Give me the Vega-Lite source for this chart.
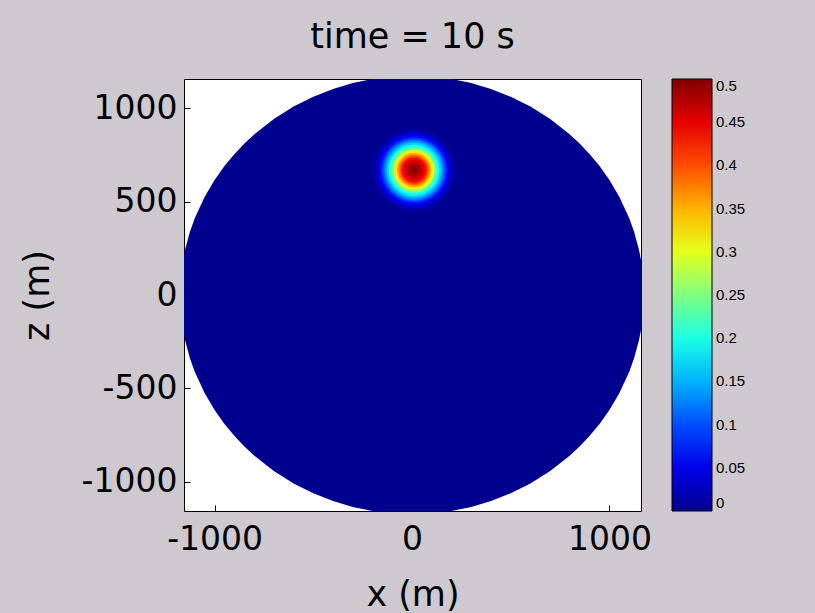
{
  "$schema": "https://vega.github.io/schema/vega-lite/v6.json",
  "width": 457,
  "height": 432,
  "autosize": "none",
  "padding": {"left": 184, "top": 79, "right": 174, "bottom": 102},
  "background": "#CDC9CF",
  "title": {"text": "time = 10 s", "fontSize": 35, "fontWeight": "normal", "font": "DejaVu Sans", "color": "black", "anchor": "middle", "frame": "group", "offset": -11, "baseline": "bottom"},
  "config": {
    "view": {"fill": "white", "stroke": "black", "strokeWidth": 1},
    "font": "DejaVu Sans"
  },
  "datasets": {
    "disk": [
      {"x": -1175, "z": 0, "z2": 0},
      {"x": -1170, "z": 108, "z2": -108},
      {"x": -1160, "z": 187, "z2": -187},
      {"x": -1150, "z": 241, "z2": -241},
      {"x": -1125, "z": 339, "z2": -339},
      {"x": -1100, "z": 413, "z2": -413},
      {"x": -1050, "z": 527, "z2": -527},
      {"x": -1000, "z": 617, "z2": -617},
      {"x": -950, "z": 691, "z2": -691},
      {"x": -900, "z": 755, "z2": -755},
      {"x": -850, "z": 811, "z2": -811},
      {"x": -800, "z": 861, "z2": -861},
      {"x": -700, "z": 944, "z2": -944},
      {"x": -600, "z": 1010, "z2": -1010},
      {"x": -500, "z": 1063, "z2": -1063},
      {"x": -400, "z": 1105, "z2": -1105},
      {"x": -300, "z": 1136, "z2": -1136},
      {"x": -200, "z": 1158, "z2": -1158},
      {"x": -100, "z": 1171, "z2": -1171},
      {"x": 0, "z": 1175, "z2": -1175},
      {"x": 100, "z": 1171, "z2": -1171},
      {"x": 200, "z": 1158, "z2": -1158},
      {"x": 300, "z": 1136, "z2": -1136},
      {"x": 400, "z": 1105, "z2": -1105},
      {"x": 500, "z": 1063, "z2": -1063},
      {"x": 600, "z": 1010, "z2": -1010},
      {"x": 700, "z": 944, "z2": -944},
      {"x": 800, "z": 861, "z2": -861},
      {"x": 850, "z": 811, "z2": -811},
      {"x": 900, "z": 755, "z2": -755},
      {"x": 950, "z": 691, "z2": -691},
      {"x": 1000, "z": 617, "z2": -617},
      {"x": 1050, "z": 527, "z2": -527},
      {"x": 1100, "z": 413, "z2": -413},
      {"x": 1125, "z": 339, "z2": -339},
      {"x": 1150, "z": 241, "z2": -241},
      {"x": 1160, "z": 187, "z2": -187},
      {"x": 1170, "z": 108, "z2": -108},
      {"x": 1175, "z": 0, "z2": 0}
    ],
    "rings": [
      {"x": 10, "z": 670, "r": 250, "v": 0.005},
      {"x": 10, "z": 670, "r": 240, "v": 0.012},
      {"x": 10, "z": 670, "r": 230, "v": 0.019},
      {"x": 10, "z": 670, "r": 220, "v": 0.035},
      {"x": 10, "z": 670, "r": 210, "v": 0.051},
      {"x": 10, "z": 670, "r": 200, "v": 0.07},
      {"x": 10, "z": 670, "r": 190, "v": 0.094},
      {"x": 10, "z": 670, "r": 180, "v": 0.118},
      {"x": 10, "z": 670, "r": 170, "v": 0.142},
      {"x": 10, "z": 670, "r": 160, "v": 0.166},
      {"x": 10, "z": 670, "r": 150, "v": 0.19},
      {"x": 10, "z": 670, "r": 140, "v": 0.22},
      {"x": 10, "z": 670, "r": 130, "v": 0.25},
      {"x": 10, "z": 670, "r": 120, "v": 0.289},
      {"x": 10, "z": 670, "r": 110, "v": 0.325},
      {"x": 10, "z": 670, "r": 100, "v": 0.356},
      {"x": 10, "z": 670, "r": 90, "v": 0.387},
      {"x": 10, "z": 670, "r": 80, "v": 0.417},
      {"x": 10, "z": 670, "r": 70, "v": 0.441},
      {"x": 10, "z": 670, "r": 60, "v": 0.453},
      {"x": 10, "z": 670, "r": 50, "v": 0.465},
      {"x": 10, "z": 670, "r": 40, "v": 0.476},
      {"x": 10, "z": 670, "r": 30, "v": 0.484},
      {"x": 10, "z": 670, "r": 20, "v": 0.492},
      {"x": 10, "z": 670, "r": 10, "v": 0.498}
    ]
  },
  "encoding": {
    "x": {
      "field": "x", "type": "quantitative",
      "scale": {"domain": [-1155, 1160], "nice": false, "zero": false},
      "axis": {"title": "x (m)", "values": [-1000, 0, 1000], "grid": false, "domain": false, "ticks": true, "tickSize": -6, "tickColor": "black", "labelFontSize": 33, "labelColor": "black", "labelFont": "DejaVu Sans", "labelPadding": 18, "labelExpr": "toString(datum.value)", "labelFlush": false, "labelOverlap": false, "titleFontSize": 35, "titleFontWeight": "normal", "titleColor": "black", "titleFont": "DejaVu Sans", "titlePadding": 21}
    },
    "y": {
      "field": "z", "type": "quantitative",
      "scale": {"domain": [-1158, 1158], "nice": false, "zero": false},
      "axis": {"title": "z (m)", "values": [-1000, -500, 0, 500, 1000], "grid": false, "domain": false, "ticks": true, "tickSize": -6, "tickColor": "black", "labelFontSize": 33, "labelColor": "black", "labelFont": "DejaVu Sans", "labelPadding": 13, "labelExpr": "toString(datum.value)", "labelFlush": false, "labelOverlap": false, "titleFontSize": 35, "titleFontWeight": "normal", "titleColor": "black", "titleFont": "DejaVu Sans", "titlePadding": 26}
    }
  },
  "layer": [
    {
      "data": {"name": "disk"},
      "mark": {"type": "area", "color": "#00008F", "clip": true, "interpolate": "linear"},
      "encoding": {"y2": {"field": "z2"}}
    },
    {
      "data": {"name": "rings"},
      "mark": {"type": "point", "filled": true, "opacity": 1, "shape": "circle", "strokeWidth": 0},
      "encoding": {
        "size": {"field": "r", "type": "quantitative", "scale": {"type": "pow", "exponent": 2, "domain": [0, 250], "range": [0, 7238]}, "legend": null},
        "order": {"field": "r", "sort": "descending"},
        "color": {
          "field": "v", "type": "quantitative",
          "scale": {"domain": [0, 0.0625, 0.1875, 0.3125, 0.4375, 0.5], "range": ["#00008F", "#0000FF", "#00FFFF", "#FFFF00", "#FF0000", "#800000"], "interpolate": "rgb"},
          "legend": {"type": "gradient", "direction": "vertical", "orient": "right", "offset": 31, "padding": 0, "title": null, "gradientLength": 432, "gradientThickness": 40, "gradientStrokeColor": "black", "gradientStrokeWidth": 1, "labelFontSize": 15, "labelFont": "Liberation Sans", "labelColor": "black", "labelOffset": 4, "labelOverlap": false, "values": [0, 0.05, 0.1, 0.15, 0.2, 0.25, 0.3, 0.35, 0.4, 0.45, 0.5], "format": "~g", "encode": {"labels": {"update": {"baseline": {"value": "middle"}}}}}
        }
      }
    }
  ]
}
